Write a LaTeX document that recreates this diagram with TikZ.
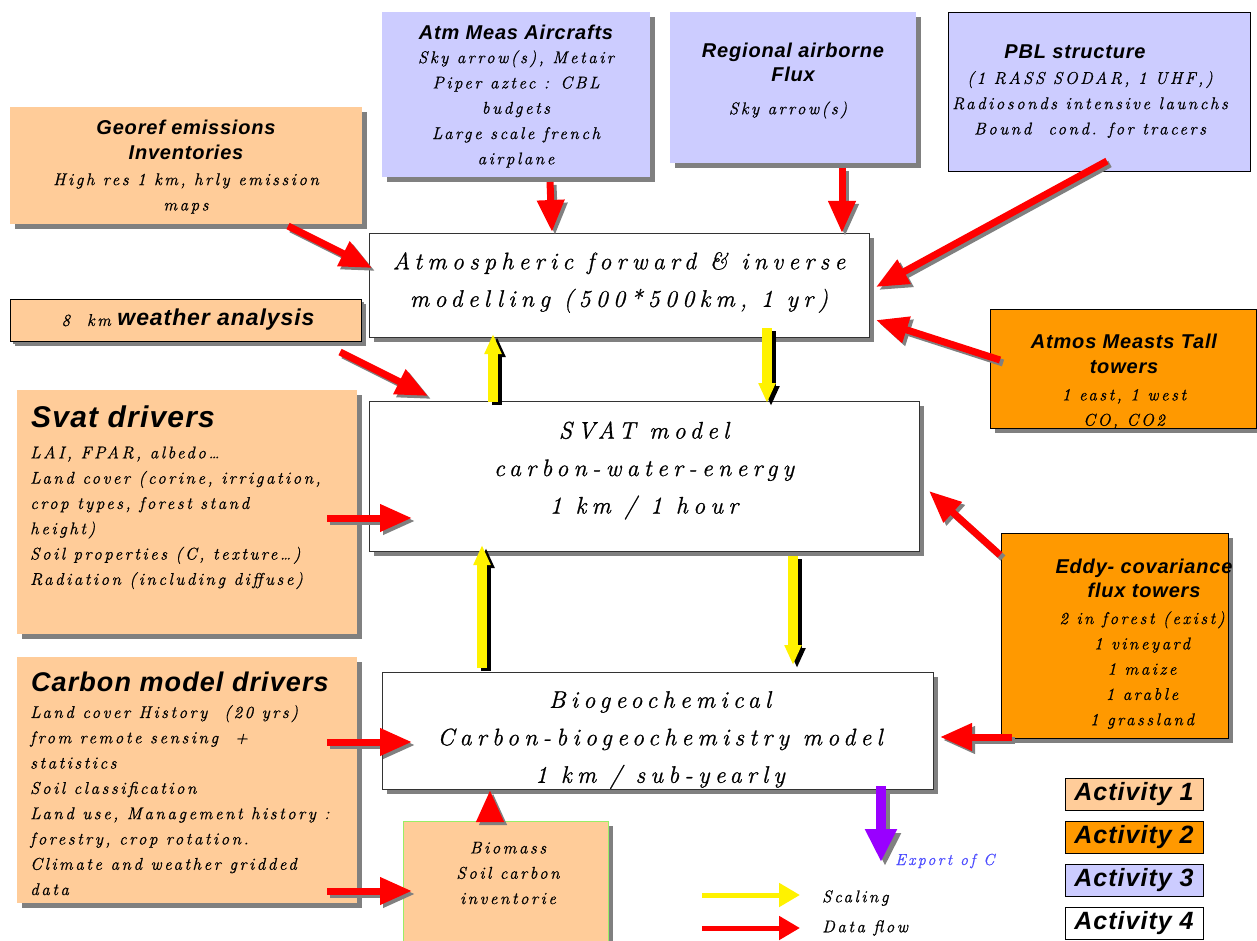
\documentclass[tikz,border=0pt]{standalone}
\usepackage{fontspec}
\usetikzlibrary{arrows.meta,shadows}
\newfontfamily\calfont[LetterSpace=15,FakeBold=0.8]{Latin Modern Roman}
\newfontfamily\calwide[LetterSpace=22,FakeBold=0.8]{Latin Modern Roman}
\newfontfamily\headfont[LetterSpace=4]{Liberation Sans}
\definecolor{peach}{HTML}{FFCC99}
\definecolor{lav}{HTML}{CCCCFF}
\definecolor{orng}{HTML}{FF9900}
\definecolor{shgray}{HTML}{808080}
\definecolor{purp}{HTML}{9900FF}
\definecolor{expblue}{HTML}{4D4DFF}
\definecolor{ltgreen}{HTML}{99EE66}
\tikzset{
  sh/.style={drop shadow={shadow xshift=5pt,shadow yshift=-5pt,fill=shgray,opacity=1}},
  boxa/.style={fill=peach,draw=none,sh,inner sep=0},
  boxb/.style={fill=orng,draw=black,line width=0.8pt,sh,inner sep=0},
  boxc/.style={fill=lav,draw=none,sh,inner sep=0},
  boxd/.style={fill=white,draw=black!80,line width=0.8pt,sh,inner sep=0},
  hd/.style={font=\fontsize{20}{24.5}\selectfont\headfont\bfseries\itshape,align=center,inner sep=0},
  bighd/.style={font=\fontsize{30}{32}\selectfont\headfont\bfseries\itshape,align=left,inner sep=0},
  bd/.style={font=\fontsize{17}{25.3}\selectfont\calfont\itshape,align=center,inner sep=0},
  bdl/.style={bd,align=left},
  mn/.style={font=\fontsize{24}{37.5}\selectfont\calwide\itshape,align=center,inner sep=0},
  act/.style={font=\fontsize{25}{26}\selectfont\headfont\bfseries\itshape,draw=black,line width=0.8pt,minimum width=138pt,minimum height=32pt,inner sep=0},
  redarr/.style={draw=red,line width=7pt,-{Triangle[length=32pt,width=26pt]}},
  redsh/.style={draw=shgray,line width=7pt,-{Triangle[length=32pt,width=26pt]},transform canvas={shift={(3pt,-3pt)}}},
  yelarr/.style={draw=yellow,line width=10pt,-{Triangle[length=20pt,width=16pt]}},
  yelsh/.style={draw=black,line width=10pt,-{Triangle[length=20pt,width=16pt]},transform canvas={shift={(4pt,-3pt)}}},
}
\newcommand\dataflow[2]{\draw[redsh] (#1) -- (#2); \draw[redarr] (#1) -- (#2);}
\newcommand\scaleflow[2]{\draw[yelsh] (#1) -- (#2); \draw[yelarr] (#1) -- (#2);}
\begin{document}
\begin{tikzpicture}[x=1pt,y=-1pt]
\useasboundingbox[fill=white] (0,0) rectangle (1257,941);

% ---------- boxes ----------
\node[boxa,minimum width=352pt,minimum height=117pt] (georef) at (186,165.5) {};
\node[boxc,minimum width=268pt,minimum height=165pt] (aircraft) at (516,94.5) {};
\node[boxc,minimum width=246pt,minimum height=151pt] (regional) at (793,87.5) {};
\node[fill=lav,draw=black,line width=0.8pt,inner sep=0,minimum width=302pt,minimum height=159pt] (pbl) at (1099,91.5) {};
\node[boxd,minimum width=500pt,minimum height=104pt] (atmo) at (619,285) {};
\node[boxa,draw=black,line width=0.8pt,minimum width=351pt,minimum height=42pt,drop shadow={shadow xshift=3pt,shadow yshift=-3pt,fill=shgray,opacity=1}] (weather) at (185.5,320) {};
\node[boxa,minimum width=340pt,minimum height=244pt] (svatdrv) at (187,512) {};
\node[boxd,minimum width=550pt,minimum height=150pt] (svat) at (644,476) {};
\node[boxb,minimum width=266pt,minimum height=119pt] (tall) at (1123,368.5) {};
\node[boxb,minimum width=227pt,minimum height=205pt] (eddy) at (1114.5,635.5) {};
\node[boxa,minimum width=340pt,minimum height=246pt] (carbdrv) at (187,780) {};
\node[boxd,minimum width=551pt,minimum height=117pt] (biogeo) at (657.5,730.5) {};
\node[boxa,draw=ltgreen,line width=0.8pt,minimum width=205pt,minimum height=122pt] (biomass) at (505.5,882) {};

% ---------- texts ----------
\node[hd] (georefH) at (186,140) {Georef emissions\\Inventories};
\node[bd] (georefB) at (186,193.5) {High res 1 km, hrly emission\\maps};

\node[hd] (aircraftH) at (516,32) {Atm Meas Aircrafts};
\node[bd] (aircraftB) at (516,109) {Sky arrow(s), Metair\\Piper aztec : CBL\\budgets\\Large scale french\\airplane};

\node[hd] (regionalH) at (793,62.5) {Regional airborne\\Flux};
\node[bd] (regionalB) at (788,110) {Sky arrow(s)};

\node[hd] (pblH) at (1075,52) {PBL structure};
\node[bd] (pblB) at (1090,104.5) {(1 RASS SODAR, 1 UHF,)\\Radiosonds intensive launchs\\Bound\ \ cond. for tracers};

\node[mn] (atmoT) at (619,282.5) {Atmospheric forward \& inverse\\modelling (500*500km, 1 yr)};

\node[inner sep=0] (weatherT) at (188,320) {{\fontsize{17}{18}\selectfont\calfont\itshape 8\ \ km}\ \ {\fontsize{23}{24}\selectfont\headfont\bfseries\itshape weather analysis}};

\node[bighd,anchor=west] (svatdrvH) at (31,417) {Svat drivers};
\node[bdl,anchor=north west] (svatdrvB) at (30,446) {LAI, FPAR, albedo\dots\\Land cover (corine, irrigation,\\crop types, forest stand\\height)\\Soil properties (C, texture\dots)\\Radiation (including diffuse)};

\node[mn] (svatT) at (644,470.5) {SVAT model\\carbon-water-energy\\1 km / 1 hour};

\begin{scope}
\clip (990,309) rectangle (1256,428);
\node[hd] (tallH) at (1124,354) {Atmos Measts Tall\\towers};
\node[bd] (tallB) at (1124,409) {1 east, 1 west\\CO, CO2};
\end{scope}

\node[hd] (eddyH) at (1144,578.5) {Eddy- covariance\\flux towers};
\node[bd] (eddyB) at (1142,670) {2 in forest (exist)\\1 vineyard\\1 maize\\1 arable\\1 grassland};

\node[bighd,anchor=west,font=\fontsize{27}{30}\selectfont\headfont\bfseries\itshape] (carbdrvH) at (31,682) {Carbon model drivers};
\node[bdl,anchor=north west] (carbdrvB) at (30,705) {Land cover History\ \ (20 yrs)\\from remote sensing\ \ +\\statistics\\Soil classification\\Land use, Management history :\\forestry, crop rotation.\\Climate and weather gridded\\data};

\node[mn] (biogeoT) at (660,740) {Biogeochemical\\Carbon-biogeochemistry model\\1 km / sub-yearly};

\node[bd] (biomassT) at (508,873) {Biomass\\Soil carbon\\inventorie};

% ---------- legend ----------
\node[act,fill=peach] (act1) at (1134,794) {Activity 1};
\node[act,fill=orng] (act2) at (1134,837) {Activity 2};
\node[act,fill=lav] (act3) at (1134,880) {Activity 3};
\node[act,fill=white] (act4) at (1134,923) {Activity 4};

\node[bd,anchor=west] (scalT) at (822,898) {Scaling};
\node[bd,anchor=west] (dataT) at (822,928) {Data flow};
\node[bd,anchor=west,text=expblue,font=\fontsize{16}{18}\selectfont\calfont\itshape] (expT) at (895,861) {Export of C};

\coordinate (ly1) at (702,895); \coordinate (ly2) at (800,895);
\coordinate (lr1) at (702,928); \coordinate (lr2) at (800,928);
\draw[draw=yellow,line width=5pt,-{Triangle[length=21pt,width=23pt]}] (ly1) -- (ly2);
\draw[draw=red,line width=5pt,-{Triangle[length=21pt,width=23pt]}] (lr1) -- (lr2);

% ---------- connectors ----------
\coordinate (a1s) at (288,226);  \coordinate (a1e) at (372,268);
\coordinate (a2s) at (550,182);  \coordinate (a2e) at (552,232);
\coordinate (a3s) at (842,168);  \coordinate (a3e) at (842,233);
\coordinate (a4s) at (1107,161); \coordinate (a4e) at (876,287);
\coordinate (a5s) at (1000,360); \coordinate (a5e) at (876,320);
\coordinate (a6s) at (340,352);  \coordinate (a6e) at (428,396);
\coordinate (a7s) at (327,518);  \coordinate (a7e) at (412,518);
\coordinate (a8s) at (1000,555); \coordinate (a8e) at (929,491);
\coordinate (a9s) at (1012,737); \coordinate (a9e) at (940,737);
\coordinate (a10s) at (327,742); \coordinate (a10e) at (412,742);
\coordinate (a11s) at (327,891); \coordinate (a11e) at (412,891);
\coordinate (a12s) at (490,821); \coordinate (a12e) at (490,790);

\dataflow{a1s}{a1e}
\dataflow{a2s}{a2e}
\dataflow{a3s}{a3e}
\dataflow{a4s}{a4e}
\dataflow{a5s}{a5e}
\dataflow{a6s}{a6e}
\dataflow{a7s}{a7e}
\dataflow{a8s}{a8e}
\dataflow{a9s}{a9e}
\dataflow{a10s}{a10e}
\dataflow{a11s}{a11e}
\dataflow{a12s}{a12e}

\coordinate (p1) at (881,786); \coordinate (p2) at (881,862);
\draw[draw=shgray,line width=10pt,-{Triangle[length=33pt,width=30pt]},transform canvas={shift={(4pt,-4pt)}}] (p1) -- (p2);
\draw[draw=purp,line width=10pt,-{Triangle[length=33pt,width=30pt]}] (p1) -- (p2);

\coordinate (y1s) at (493,402); \coordinate (y1e) at (493,334);
\coordinate (y2s) at (767,328); \coordinate (y2e) at (767,403);
\coordinate (y3s) at (482,668); \coordinate (y3e) at (482,545);
\coordinate (y4s) at (793,556); \coordinate (y4e) at (793,665);
\scaleflow{y1s}{y1e}
\scaleflow{y2s}{y2e}
\scaleflow{y3s}{y3e}
\scaleflow{y4s}{y4e}
\end{tikzpicture}
\end{document}
